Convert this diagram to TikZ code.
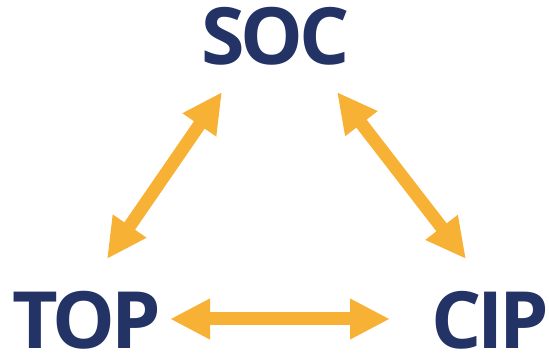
\documentclass[tikz,border=0pt]{standalone}
\usepackage{fontspec}
\setmainfont{Open Sans}[LetterSpace=-5]
\usepackage{tikz}
\usetikzlibrary{positioning, arrows.meta}
\definecolor{Navy}{rgb}{0.14,0.20,0.40}
\definecolor{Gold}{rgb}{0.97,0.70,0.21}
\tikzstyle{lb}=[%
      text=Navy, font=\fontsize{79}{90}\selectfont\bfseries, inner sep=0pt
]
\tikzstyle{ar}=[%
      draw=Gold, line width=13pt,
      {Triangle[length=40pt,width=38pt]}-{Triangle[length=40pt,width=38pt]}
]
\begin{document}
\begin{tikzpicture}[x=1pt, y=1pt]
    \useasboundingbox (0,0) rectangle (549,353);
    \node[lb, anchor=base] (soc) at (275.5,288) {SOC};
    \node[lb] (top) [below left=284pt and 189pt of soc.base, anchor=base] {TOP};
    \node[lb] (cip) [below right=284pt and 215pt of soc.base, anchor=base] {CIP};

    \draw[ar] ([shift={(20.5,90)}]top.base) -- ([shift={(-53.5,-27)}]soc.base);
    \draw[ar] ([shift={(61.5,-27)}]soc.base) -- ([shift={(-24.5,90)}]cip.base);
    \draw[ar] ([shift={(83.5,30)}]top.base) -- ([shift={(-100.5,30)}]cip.base);

  \end{tikzpicture}
\end{document}
